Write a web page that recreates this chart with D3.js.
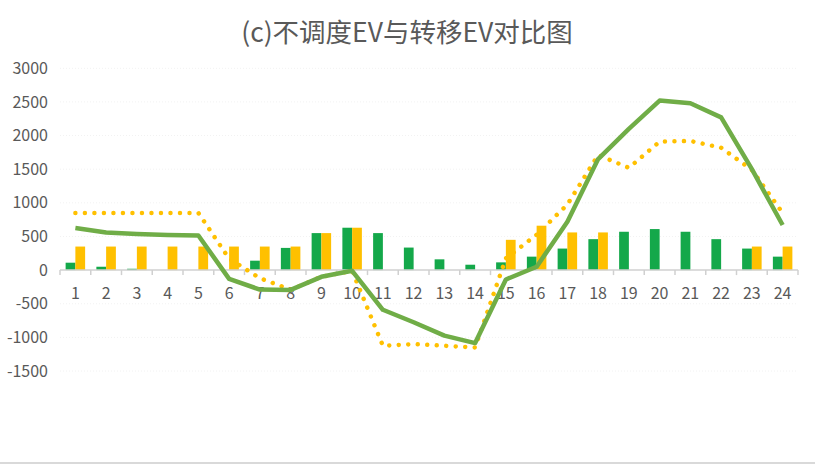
<!DOCTYPE html>
<html>
<head>
<meta charset="utf-8">
<script src="https://cdn.jsdelivr.net/npm/d3@7"></script>
<style>
  body { margin: 0; background: #fff; }
  svg { display: block; }
</style>
</head>
<body>
<svg id="chart"></svg>
<script>
// hours 1..24
const hours = d3.range(1, 25).map(String);
const yTicks = [-1500, -1000, -500, 0, 500, 1000, 1500, 2000, 2500, 3000];

// bars
const greenBars = [110, 50, 20, 0, 0, 0, 140, 330, 550, 630, 550, 335, 160, 80, 115, 200, 320, 460, 570, 610, 570, 460, 320, 200];
const yellowBars = [350, 350, 350, 350, 350, 350, 350, 350, 550, 630, 0, 0, 0, 0, 450, 660, 560, 560, 0, 0, 0, 0, 350, 350];

// lines
const greenLine = [625, 560, 535, 520, 515, -130, -290, -295, -100, -10, -590, -775, -975, -1085, -140, 50, 720, 1650, 2100, 2520, 2480, 2270, 1500, 670];
const yellowLine = [850, 850, 850, 850, 850, 170, -120, -290, -100, -10, -1125, -1100, -1125, -1150, 175, 525, 975, 1710, 1520, 1910, 1920, 1820, 1490, 850];

const W = 815, H = 465;
const svg = d3.select('#chart').attr('width', W).attr('height', H);

const x = d3.scaleBand().domain(hours).range([60, 798]);
const y = d3.scaleLinear().domain([-1500, 3000]).range([371, 68.3]);
const sub = d3.scaleBand().domain(['g', 'y']).range([0, 19.5]);
const off = (x.bandwidth() - 19.5) / 2;

// title
svg.append('text')
  .attr('x', 407).attr('y', 42)
  .attr('text-anchor', 'middle')
  .attr('font-family', '"Noto Sans CJK SC", "Noto Sans", sans-serif')
  .attr('font-size', 26.5)
  .attr('fill', '#595959')
  .text('(c)不调度EV与转移EV对比图');

// faint grid
svg.append('g')
  .selectAll('line')
  .data(yTicks.filter(d => d !== 0))
  .enter().append('line')
  .attr('x1', 60).attr('x2', 798)
  .attr('y1', d => y(d)).attr('y2', d => y(d))
  .attr('stroke', '#f2f2f2')
  .attr('stroke-dasharray', '1,2');

// y labels
svg.append('g')
  .selectAll('text')
  .data(yTicks)
  .enter().append('text')
  .attr('x', 48).attr('y', d => y(d))
  .attr('dy', '0.35em')
  .attr('text-anchor', 'end')
  .attr('font-family', '"Noto Sans CJK SC", "Noto Sans", sans-serif')
  .attr('font-size', 16)
  .attr('fill', '#595959')
  .text(d => d);

// bars
svg.append('g')
  .selectAll('rect')
  .data(greenBars)
  .enter().append('rect')
  .attr('x', (d, i) => x(hours[i]) + off + sub('g'))
  .attr('width', sub.bandwidth())
  .attr('y', d => y(d))
  .attr('height', d => y(0) - y(d))
  .attr('fill', '#14a84a');

svg.append('g')
  .selectAll('rect')
  .data(yellowBars)
  .enter().append('rect')
  .attr('x', (d, i) => x(hours[i]) + off + sub('y'))
  .attr('width', sub.bandwidth())
  .attr('y', d => y(d))
  .attr('height', d => y(0) - y(d))
  .attr('fill', '#ffc000');

// category axis at zero
const axis = svg.append('g').attr('transform', `translate(0,${y(0)})`);
axis.append('line')
  .attr('x1', 60).attr('x2', 798)
  .attr('stroke', '#d0d0d0').attr('stroke-width', 1.5);
axis.selectAll('.tk')
  .data(hours.concat(['end']))
  .enter().append('line')
  .attr('x1', (d, i) => i < 24 ? x(d) : x.range()[1])
  .attr('x2', (d, i) => i < 24 ? x(d) : x.range()[1])
  .attr('y1', 0).attr('y2', 5)
  .attr('stroke', '#d0d0d0').attr('stroke-width', 1.5);

// lines
const line = d3.line().x((d, i) => x(hours[i]) + x.bandwidth() / 2).y(d => y(d));

svg.append('path')
  .datum(yellowLine)
  .attr('d', line)
  .attr('fill', 'none')
  .attr('stroke', '#ffc000')
  .attr('stroke-width', 4.5)
  .attr('stroke-linecap', 'round')
  .attr('stroke-dasharray', '0.01,9.5');

svg.append('path')
  .datum(greenLine)
  .attr('d', line)
  .attr('fill', 'none')
  .attr('stroke', '#70ad47')
  .attr('stroke-width', 4.5)
  .attr('stroke-linejoin', 'round');

// x labels
axis.selectAll('.lb')
  .data(hours)
  .enter().append('text')
  .attr('x', d => x(d) + x.bandwidth() / 2)
  .attr('y', 23)
  .attr('dy', '0.35em')
  .attr('text-anchor', 'middle')
  .attr('font-family', '"Noto Sans CJK SC", "Noto Sans", sans-serif')
  .attr('font-size', 16)
  .attr('fill', '#595959')
  .text(d => d);

// bottom border line
svg.append('line')
  .attr('x1', 0).attr('x2', W)
  .attr('y1', 463).attr('y2', 463)
  .attr('stroke', '#d9d9d9').attr('stroke-width', 2);
</script>
</body>
</html>
